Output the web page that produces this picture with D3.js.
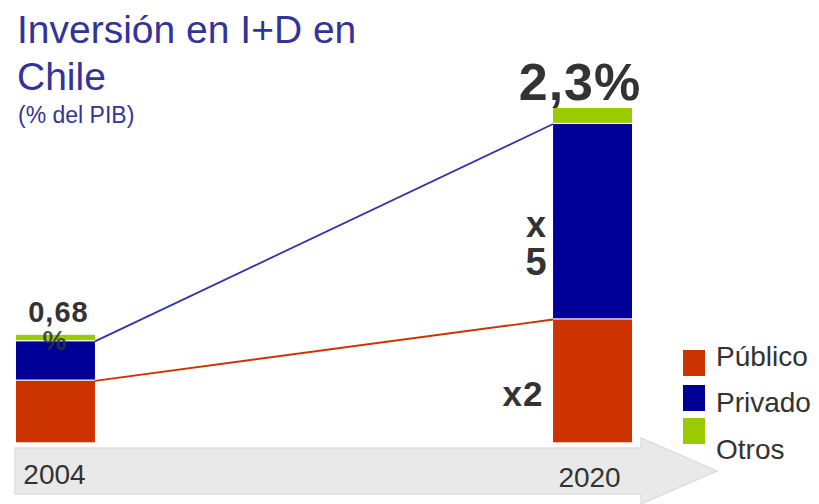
<!DOCTYPE html>
<html>
<head>
<meta charset="utf-8">
<script src="https://cdn.jsdelivr.net/npm/d3@7"></script>
<style>
  body { margin: 0; background: #fff; }
  svg { display: block; font-family: "Liberation Sans", Arial, sans-serif; }
</style>
</head>
<body>
<div id="chart"></div>
<script>
// data (% del PIB)
const years = ['2004', '2020'];
const series = ['Público', 'Privado', 'Otros'];
const publico = [0.43, 0.85];
const privado = [0.27, 1.34];
const otros = [0.045, 0.11];
const totalLabels = ['0,68', '2,3%'];
const colors = ['#cc3300', '#000099', '#99cc00'];

const width = 819, height = 504;

const svg = d3.select('#chart')
  .append('svg')
  .attr('width', width)
  .attr('height', height);

// scales
const x = d3.scaleBand()
  .domain(years)
  .range([16, 632])
  .paddingInner(0.853);

const y = d3.scaleLinear()
  .domain([0, 2.3])
  .range([443.5, 108]);

const color = d3.scaleOrdinal().domain(series).range(colors);

// stacked data
const rows = years.map((yr, i) => ({year: yr, 'Público': publico[i], 'Privado': privado[i], 'Otros': otros[i]}));
const stacked = d3.stack().keys(series)(rows);

// arrow at the bottom
const ax0 = 15, ax1 = 641, atip = 717, bTop = 448, bBot = 494, hTop = 438, hBot = 504;
svg.append('path')
  .attr('d', `M${ax0},${bTop}L${ax1},${bTop}L${ax1},${hTop}L${atip},${(bTop + bBot) / 2}L${ax1},${hBot}L${ax1},${bBot}L${ax0},${bBot}Z`)
  .attr('fill', '#e9e9e9')
  .attr('stroke', '#dedede')
  .attr('stroke-width', 1.5);

// year labels
svg.selectAll('.year')
  .data(years)
  .enter()
  .append('text')
  .attr('class', 'year')
  .attr('x', d => x(d) + x.bandwidth() / 2 - (d === '2004' ? 1 : 3))
  .attr('y', d => d === '2004' ? 484 : 487)
  .attr('text-anchor', 'middle')
  .attr('font-size', 28)
  .attr('fill', '#333')
  .text(d => d);

// bars
svg.selectAll('.layer')
  .data(stacked)
  .enter()
  .append('g')
  .attr('class', 'layer')
  .attr('fill', d => color(d.key))
  .selectAll('rect')
  .data(d => d)
  .enter()
  .append('rect')
  .attr('x', d => x(d.data.year))
  .attr('y', d => y(d[1]))
  .attr('width', x.bandwidth())
  .attr('height', d => y(d[0]) - y(d[1]) - 1.2);

// connecting lines (top of Privado, top of Público)
const linkData = [
  {key: 'Privado', col: '#3333aa', vals: years.map((yr, i) => publico[i] + privado[i])},
  {key: 'Público', col: '#cc3300', vals: publico}
];
svg.selectAll('.link')
  .data(linkData)
  .enter()
  .append('line')
  .attr('class', 'link')
  .attr('x1', x('2004') + x.bandwidth())
  .attr('y1', d => y(d.vals[0]))
  .attr('x2', x('2020'))
  .attr('y2', d => y(d.vals[1]))
  .attr('stroke', d => d.col)
  .attr('stroke-width', 1.8);

// total labels
svg.append('text')
  .attr('x', x('2004') + x.bandwidth() / 2 + 3)
  .attr('y', 322)
  .attr('text-anchor', 'middle')
  .attr('font-size', 29)
  .attr('font-weight', 'bold')
  .attr('fill', '#333')
  .attr('letter-spacing', 1)
  .text(totalLabels[0]);
svg.append('text')
  .attr('x', x('2004') + x.bandwidth() / 2 - 1)
  .attr('y', 350)
  .attr('text-anchor', 'middle')
  .attr('font-size', 27)
  .attr('font-weight', 'bold')
  .attr('fill', '#333')
  .attr('fill-opacity', 0.85)
  .text('%');

svg.append('text')
  .attr('x', 580)
  .attr('y', 100)
  .attr('text-anchor', 'middle')
  .attr('font-size', 52)
  .attr('font-weight', 'bold')
  .attr('fill', '#333')
  .attr('letter-spacing', 1)
  .text(totalLabels[1]);

// growth labels
const growth = svg.append('g')
  .attr('font-weight', 'bold')
  .attr('fill', '#333')
  .attr('text-anchor', 'middle');
growth.append('text').attr('x', 536).attr('y', 237).attr('font-size', 36).text('x');
growth.append('text').attr('x', 536).attr('y', 275).attr('font-size', 38).text('5');
growth.append('text').attr('x', 523).attr('y', 406).attr('font-size', 35).attr('letter-spacing', 1).text('x2');

// title
const title = svg.append('g').attr('fill', '#333399');
title.append('text').attr('x', 17).attr('y', 43).attr('font-size', 39).text('Inversión en I+D en');
title.append('text').attr('x', 17).attr('y', 90).attr('font-size', 39).text('Chile');
title.append('text').attr('x', 18).attr('y', 123).attr('font-size', 23).text('(% del PIB)');

// legend
const legSq = [350, 385, 418];
const legTx = [366, 412, 459];
const legend = svg.selectAll('.legend')
  .data(series)
  .enter()
  .append('g')
  .attr('class', 'legend');
legend.append('rect')
  .attr('x', 683)
  .attr('y', (d, i) => legSq[i])
  .attr('width', 22)
  .attr('height', 26)
  .attr('fill', d => color(d));
legend.append('text')
  .attr('x', 716)
  .attr('y', (d, i) => legTx[i])
  .attr('font-size', 28)
  .attr('fill', '#333')
  .text(d => d);
</script>
</body>
</html>
